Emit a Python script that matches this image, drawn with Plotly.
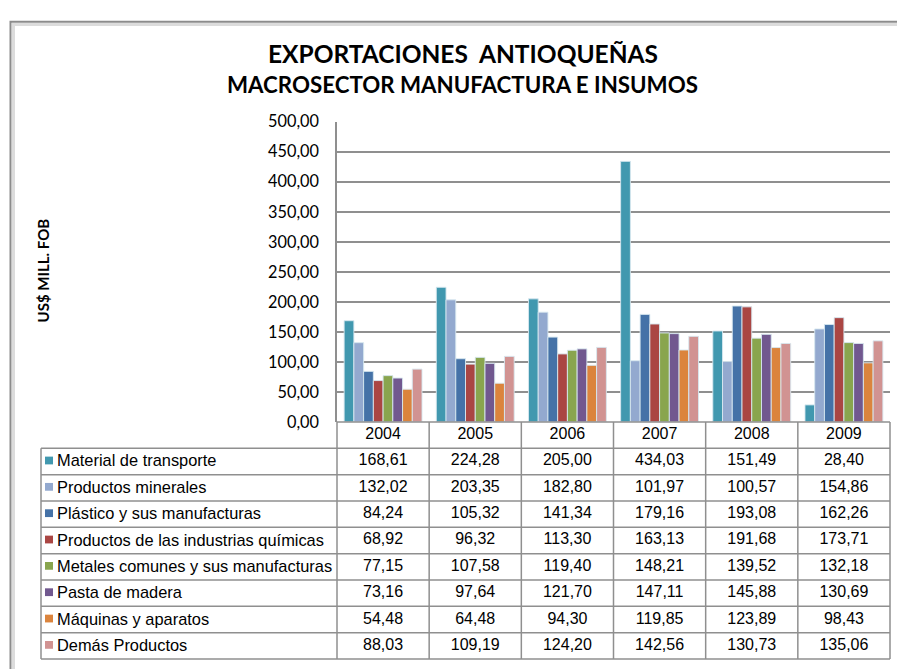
import plotly.graph_objects as go

W, H = 897, 669

years = ["2004", "2005", "2006", "2007", "2008", "2009"]
series_names = [
    "Material de transporte",
    "Productos minerales",
    "Plástico y sus manufacturas",
    "Productos de las industrias químicas",
    "Metales comunes y sus manufacturas",
    "Pasta de madera",
    "Máquinas y aparatos",
    "Demás Productos",
]
material_transporte = [168.61, 224.28, 205.00, 434.03, 151.49, 28.40]
productos_minerales = [132.02, 203.35, 182.80, 101.97, 100.57, 154.86]
plastico = [84.24, 105.32, 141.34, 179.16, 193.08, 162.26]
quimicos = [68.92, 96.32, 113.30, 163.13, 191.68, 173.71]
metales = [77.15, 107.58, 119.40, 148.21, 139.52, 132.18]
pasta_madera = [73.16, 97.64, 121.70, 147.11, 145.88, 130.69]
maquinas = [54.48, 64.48, 94.30, 119.85, 123.89, 98.43]
demas = [88.03, 109.19, 124.20, 142.56, 130.73, 135.06]
series_values = [material_transporte, productos_minerales, plastico, quimicos,
                 metales, pasta_madera, maquinas, demas]
colors = ["#4198AF", "#93A9CF", "#4572A7", "#AA4643",
          "#89A54E", "#71588F", "#DB843D", "#D19392"]

def px(x):
    return x / W

def py(y):
    return 1 - y / H

PL, PR = 337, 890
PT, PB = 115, 424
TB = 668
LL = 41
n_rows = len(series_names) + 1

def fmt(v):
    return f"{v:.2f}".replace(".", ",")

TABLE_FONT = "Liberation Sans, Arial, sans-serif"
TITLE_FONT = "Lato, Open Sans, sans-serif"

fig = go.Figure()
for name, vals, col in zip(series_names, series_values, colors):
    fig.add_trace(go.Bar(
        x=years, y=vals, name=name, xaxis="x", yaxis="y",
        marker=dict(color=col, line=dict(color="rgba(215,232,240,0.9)", width=1)),
        showlegend=False, hoverinfo="x+y+name",
    ))

fig.add_trace(go.Scatter(
    x=years, y=[0.5] * len(years), mode="text", text=years,
    textfont=dict(family=TABLE_FONT, size=16, color="black"),
    xaxis="x2", yaxis="y2", showlegend=False, hoverinfo="skip",
))
for i, vals in enumerate(series_values):
    fig.add_trace(go.Scatter(
        x=years, y=[i + 1.5] * len(years), mode="text", text=[fmt(v) for v in vals],
        textfont=dict(family=TABLE_FONT, size=16, color="black"),
        xaxis="x2", yaxis="y2", showlegend=False, hoverinfo="skip",
    ))

shapes = []
annotations = []
grid_col = "#8f8f8f"
row_h = (TB - PB) / n_rows
for r in range(n_rows + 1):
    yy = PB + r * row_h
    x0 = PL if r == 0 else LL
    shapes.append(dict(type="line", xref="paper", yref="paper",
                       x0=px(x0), x1=px(PR), y0=py(yy), y1=py(yy),
                       line=dict(color=grid_col, width=1.5)))
col_w = (PR - PL) / len(years)
for c in range(len(years) + 1):
    xx = PL + c * col_w
    shapes.append(dict(type="line", xref="paper", yref="paper",
                       x0=px(xx), x1=px(xx), y0=py(PB), y1=py(TB),
                       line=dict(color=grid_col, width=1.5)))
shapes.append(dict(type="line", xref="paper", yref="paper",
                   x0=px(LL), x1=px(LL), y0=py(PB + row_h), y1=py(TB),
                   line=dict(color=grid_col, width=1.5)))

for i, (name, col) in enumerate(zip(series_names, colors)):
    yc = PB + (i + 1.5) * row_h
    shapes.append(dict(type="rect", xref="paper", yref="paper",
                       x0=px(45), x1=px(53), y0=py(yc - 5), y1=py(yc + 3),
                       fillcolor=col, line=dict(width=0)))
    annotations.append(dict(text=name, xref="paper", yref="paper",
                            x=px(55), y=py(yc - 1), xanchor="left", yanchor="middle",
                            showarrow=False,
                            font=dict(family=TABLE_FONT, size=16.4, color="black")))

# outer frame: dark edge with soft inner shadow
shapes.append(dict(type="rect", xref="paper", yref="paper",
                   x0=px(13.5), x1=px(920), y0=py(15), y1=py(700),
                   line=dict(color="#dcdcdc", width=3), layer="above"))
shapes.append(dict(type="rect", xref="paper", yref="paper",
                   x0=px(10.5), x1=px(920), y0=py(12), y1=py(700),
                   line=dict(color="#8c8c8c", width=2), layer="above"))

annotations.append(dict(text="<b>EXPORTACIONES  ANTIOQUEÑAS</b>", xref="paper", yref="paper",
                        x=px(463), y=py(44.5), xanchor="center", yanchor="middle",
                        showarrow=False,
                        font=dict(family=TITLE_FONT, size=24.5, color="black")))
annotations.append(dict(text="<b>MACROSECTOR MANUFACTURA E INSUMOS</b>", xref="paper", yref="paper",
                        x=px(462), y=py(76.5), xanchor="center", yanchor="middle",
                        showarrow=False,
                        font=dict(family=TITLE_FONT, size=22.3, color="black")))
annotations.append(dict(text="<b>US$ MILL. FOB</b>", xref="paper", yref="paper",
                        x=px(43), y=py(268), xanchor="center", yanchor="middle",
                        textangle=-90, showarrow=False,
                        font=dict(family=TITLE_FONT, size=15, color="black")))

fig.update_layout(
    width=W, height=H,
    margin=dict(l=0, r=0, t=0, b=0),
    paper_bgcolor="white", plot_bgcolor="white",
    separators=",.",
    barmode="group", bargap=0.155, bargroupgap=0,
    xaxis=dict(domain=[px(PL), px(PR)], range=[-0.5, 5.5], type="category",
               showticklabels=False, showgrid=False, zeroline=False,
               showline=False, ticks=""),
    yaxis=dict(domain=[py(PB), py(PT)], range=[0, 500], dtick=50, tickformat=".2f",
               showgrid=True, gridcolor="#8f8f8f", gridwidth=1.5,
               showline=True, linecolor="#8f8f8f", linewidth=1.5,
               ticks="", ticklabelstandoff=13,
               tickfont=dict(family=TITLE_FONT, size=16.3, color="black"),
               zeroline=False),
    xaxis2=dict(domain=[px(PL), px(PR)], range=[-0.5, 5.5], type="category",
                anchor="y2", visible=False),
    yaxis2=dict(domain=[py(TB), py(PB)], range=[n_rows, 0], anchor="x2", visible=False),
    shapes=shapes,
    annotations=annotations,
)

fig.write_html(
    "out.html",
    post_script="document.body.style.margin='0';document.body.style.overflow='hidden';",
    config={"displayModeBar": False},
)
